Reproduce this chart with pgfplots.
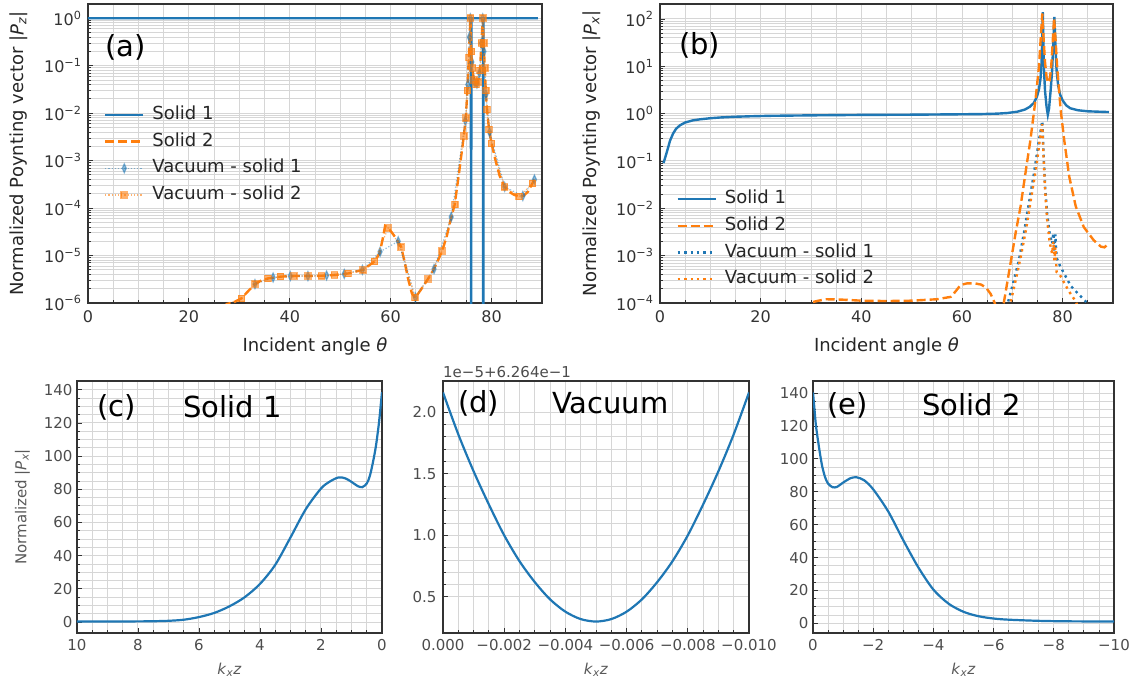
\documentclass[border=0pt]{standalone}
\usepackage{fontspec}
\setmainfont{DejaVu Sans}
\usepackage{pgfplots}
\pgfplotsset{compat=1.18}
\definecolor{tabblue}{HTML}{1F77B4}
\definecolor{taborange}{HTML}{FF7F0E}
\definecolor{gridc}{HTML}{D6D6D6}
\definecolor{framec}{HTML}{333333}
\newcommand\pw[1]{10\textsuperscript{#1}}
\newcommand\fs[1]{\fontsize{#1}{#1}\selectfont}
\tikzset{
  sone/.style={tabblue, line width=2.4pt},
  stwo/.style={taborange, line width=2.4pt, dash pattern=on 9pt off 4pt},
}
\pgfplotsset{
  legend image code/.code={\draw[mark repeat=2,mark phase=2,#1] plot coordinates {(0pt,0pt) (19pt,0pt) (38pt,0pt)}; \path (44pt,0pt);},
  every axis/.append style={
    scale only axis,
    clip mode=individual,
    scaled ticks=false,
    axis line style={line width=1.5pt, draw=framec},
    tick align=inside, tick pos=left,
    major tick length=5pt, minor tick length=3pt,
    tick style={line width=0.9pt, draw=framec},
    grid=both,
    major grid style={line width=1pt, draw=gridc},
    minor grid style={line width=0.9pt, draw=gridc},
    /pgf/number format/assume math mode=true,
    legend cell align=left,
  },
}
\begin{document}
\begin{tikzpicture}
\path[use as bounding box] (0,0) rectangle (1136pt,681pt);

% ---------------- (a)
\begin{axis}[at={(88pt,378pt)}, anchor=south west,
  width=454pt, height=299pt,
  ymode=log, xmin=0, xmax=90,
  xtick={0,20,40,60,80},
  minor xtick={5,10,15,25,30,35,45,50,55,65,70,75,85,90},
  tick label style={font=\fs{16}, text=black!80},
  xticklabel style={yshift=-4pt},
  yticklabel style={xshift=-3pt},
  label style={font=\fs{18}, text=black!85},
  xlabel style={at={(axis description cs:0.5,-0.147)}, anchor=center},
  ylabel style={at={(axis description cs:-0.152,0.5)}, anchor=center},
  legend style={draw=none, fill=none, font=\fs{18}, text=black!85, inner sep=0pt,
      row sep=8.7pt, nodes={inner ysep=0pt, text height=13.5pt, text depth=4.5pt},
      at={(0.035,0.66)}, anchor=north west},
  ymin=1e-6, ymax=2,
  ytick={1e-6,1e-5,1e-4,1e-3,1e-2,1e-1,1},
  yticklabels={\pw{−6},\pw{−5},\pw{−4},\pw{−3},\pw{−2},\pw{−1},\pw{0}},
  minor ytick={2e-6,3e-6,4e-6,5e-6,6e-6,7e-6,8e-6,9e-6,
    2e-5,3e-5,4e-5,5e-5,6e-5,7e-5,8e-5,9e-5,
    2e-4,3e-4,4e-4,5e-4,6e-4,7e-4,8e-4,9e-4,
    2e-3,3e-3,4e-3,5e-3,6e-3,7e-3,8e-3,9e-3,
    2e-2,3e-2,4e-2,5e-2,6e-2,7e-2,8e-2,9e-2,
    0.2,0.3,0.4,0.5,0.6,0.7,0.8,0.9,2},
  xlabel={Incident angle \textit{θ}},
  ylabel={Normalized Poynting vector |\textit{P}\textsubscript{\textit{z}}|},
]
\addplot[sone] coordinates {(0,1)(75.9,1)(75.95,1e-9)(76.0,1)(78.3,1)(78.35,1e-9)(78.4,1)(89.2,1)};
\addlegendentry{Solid 1}
\addplot[stwo] coordinates {
(25,5e-7)(27.5,9.5e-7)(29,1.05e-6)(30.4,1.25e-6)(31.8,1.8e-6)(33.1,2.5e-6)(34.4,3.0e-6)
(35.7,3.3e-6)(38.2,3.6e-6)(40.8,3.7e-6)(43.6,3.7e-6)(46.3,3.75e-6)(48.9,3.9e-6)(51.6,4.2e-6)
(54.5,5.0e-6)(56.8,7.5e-6)(57.8,1.1e-5)(58.4,2.2e-5)(58.9,4.2e-5)(59.5,3.8e-5)(60.3,3.0e-5)
(61.2,2.2e-5)(62.1,1.5e-5)(62.8,7e-6)(63.5,3.1e-6)(64.2,1.6e-6)(64.8,1.3e-6)(65.5,1.6e-6)
(66.5,2.3e-6)(67.4,3.2e-6)(68.5,5e-6)(69.4,8e-6)(70.2,1.25e-5)(71.1,2.5e-5)(71.8,5.2e-5)
(72.7,1.2e-4)(73.5,5e-4)(74.5,3.3e-3)(74.9,8e-3)(75.2,3e-2)(75.5,0.15)(75.8,1.0)(76.0,0.2)
(76.2,0.09)(76.5,0.05)(76.9,0.04)(77.3,0.045)(77.7,0.08)(78.0,0.3)(78.25,1.0)(78.45,0.3)
(78.65,0.09)(78.85,0.03)(79.1,0.012)(79.5,4.5e-3)(80.0,2.3e-3)(80.8,1e-3)(81.6,4.8e-4)
(82.6,2.8e-4)(83.5,2.2e-4)(84.5,1.9e-4)(85.5,1.75e-4)(86.3,1.8e-4)(87.2,2.2e-4)(88.1,3.3e-4)(88.8,4.8e-4)};
\addlegendentry{Solid 2}
\addplot[tabblue, opacity=0.5, line width=1.2pt, dash pattern=on 1.2pt off 2pt,
  mark=diamond*, mark size=4.5pt, mark options={solid, xscale=0.6}] coordinates {
(33.1,2.5e-6)(36.7,3.45e-6)(40.1,3.7e-6)(43.6,3.7e-6)(47.3,3.8e-6)(50.8,4.1e-6)(54.4,5.0e-6)
(57.9,1.2e-5)(61.5,2.0e-5)(64.9,1.3e-6)(68.6,5.2e-6)(72.0,6.5e-5)(74.8,7e-3)(75.3,4e-2)
(75.6,0.4)(75.8,1.0)(76.1,0.12)(76.6,0.045)(77.1,0.042)(77.6,0.07)(78.0,0.3)(78.25,1.0)
(78.5,0.2)(78.9,0.025)(79.6,4e-3)(82.6,2.8e-4)(86.2,1.8e-4)(88.5,4e-4)};
\addlegendentry{Vacuum - solid 1}
\addplot[taborange, opacity=0.6, line width=1.2pt, dash pattern=on 1.2pt off 2pt,
  mark=square*, mark size=3.2pt, mark options={solid}] coordinates {
(27.5,9.5e-7)(30.4,1.25e-6)(33.1,2.5e-6)(35.7,3.3e-6)(38.2,3.6e-6)(40.8,3.7e-6)(43.6,3.7e-6)
(46.3,3.75e-6)(48.9,3.9e-6)(51.6,4.2e-6)(54.5,5.0e-6)(56.8,7.5e-6)(59.5,3.8e-5)(62.1,1.5e-5)
(64.8,1.3e-6)(67.4,3.2e-6)(70.2,1.25e-5)(72.7,1.2e-4)(74.5,3.3e-3)(74.9,8e-3)(75.2,3e-2)
(75.5,0.15)(75.8,1.0)(76.0,0.2)(76.2,0.09)(76.5,0.05)(76.9,0.04)(77.3,0.045)(77.7,0.08)
(78.0,0.3)(78.25,1.0)(78.45,0.3)(78.65,0.09)(78.85,0.03)(79.1,0.012)(79.5,4.5e-3)(80.0,2.3e-3)
(82.6,2.8e-4)(85.5,1.75e-4)(88.1,3.3e-4)};
\addlegendentry{Vacuum - solid 2}
\node[anchor=west, inner sep=0pt, font=\fs{29}, text=black] at (axis description cs:0.0385,0.855) {(a)};
\end{axis}

% ---------------- (b)
\begin{axis}[at={(660pt,378pt)}, anchor=south west,
  width=453pt, height=299pt,
  ymode=log, xmin=0, xmax=90,
  xtick={0,20,40,60,80},
  minor xtick={5,10,15,25,30,35,45,50,55,65,70,75,85,90},
  tick label style={font=\fs{16}, text=black!80},
  xticklabel style={yshift=-4pt},
  yticklabel style={xshift=-3pt},
  label style={font=\fs{18}, text=black!85},
  xlabel style={at={(axis description cs:0.5,-0.147)}, anchor=center},
  ylabel style={at={(axis description cs:-0.15,0.5)}, anchor=center},
  legend style={draw=none, fill=none, font=\fs{18}, text=black!85, inner sep=0pt,
      row sep=8.7pt, nodes={inner ysep=0pt, text height=13.5pt, text depth=4.5pt},
      at={(0.036,0.378)}, anchor=north west},
  ymin=1e-4, ymax=207,
  ytick={1e-4,1e-3,1e-2,1e-1,1,10,100},
  yticklabels={\pw{−4},\pw{−3},\pw{−2},\pw{−1},\pw{0},\pw{1},\pw{2}},
  minor ytick={2e-4,3e-4,4e-4,5e-4,6e-4,7e-4,8e-4,9e-4,
    2e-3,3e-3,4e-3,5e-3,6e-3,7e-3,8e-3,9e-3,
    2e-2,3e-2,4e-2,5e-2,6e-2,7e-2,8e-2,9e-2,
    0.2,0.3,0.4,0.5,0.6,0.7,0.8,0.9,2,3,4,5,6,7,8,9,
    20,30,40,50,60,70,80,90,200},
  xlabel={Incident angle \textit{θ}},
  ylabel={Normalized Poynting vector |\textit{P}\textsubscript{\textit{x}}|},
]
\addplot[sone] coordinates {
(0.7,0.09)(1.0,0.115)(1.4,0.16)(2.0,0.27)(2.6,0.38)(3.2,0.48)(4.0,0.57)(5.0,0.65)(6.5,0.72)
(8,0.76)(10,0.8)(12,0.83)(15,0.86)(18,0.88)(22,0.9)(26,0.91)(30,0.92)(35,0.93)(40,0.94)
(45,0.945)(50,0.95)(55,0.96)(60,0.97)(64,0.98)(67,1.0)(69,1.03)(71,1.1)(72.5,1.22)(73.5,1.4)
(74.3,1.7)(74.9,2.3)(75.3,3.3)(75.6,5.5)(75.8,12)(75.95,40)(76.05,140)(76.15,40)(76.3,8)
(76.5,3)(76.8,1.4)(77.05,0.95)(77.3,1.3)(77.6,3)(77.9,8)(78.1,25)(78.25,60)(78.35,110)
(78.45,60)(78.6,20)(78.8,8)(79.1,4)(79.5,2.5)(80,1.9)(80.7,1.5)(81.5,1.3)(83,1.18)(85,1.12)
(87,1.1)(89.2,1.08)};
\addlegendentry{Solid 1}
\addplot[stwo] coordinates {
(30.4,1.05e-4)(31.5,1.12e-4)(33,1.2e-4)(36,1.18e-4)(40,1.12e-4)(45,1.1e-4)(50,1.12e-4)
(55,1.2e-4)(57.8,1.35e-4)(58.8,1.8e-4)(59.7,2.4e-4)(61,2.6e-4)(62.5,2.6e-4)(63.8,2.45e-4)
(64.8,2.1e-4)(65.7,1.55e-4)(66.5,1.0e-4)(67.0,7e-5)(67.5,6e-5)(68.0,7.5e-5)(68.3,1e-4)
(69.65,7e-4)(70.65,3e-3)(71.64,0.011)(72.6,0.055)(73.6,0.28)(74.6,1.95)(75.3,10)(75.7,50)
(75.95,130)(76.2,40)(76.5,12)(76.8,6)(77.1,4.5)(77.4,5)(77.7,9)(78.0,30)(78.3,105)(78.6,35)
(78.9,10)(79.6,1.2)(80.3,0.28)(81.3,0.047)(82.6,0.011)(84.2,4e-3)(86.2,2.1e-3)(87.6,1.55e-3)
(88.3,1.5e-3)(88.9,1.7e-3)};
\addlegendentry{Solid 2}
\addplot[tabblue, line width=2.4pt, dash pattern=on 2.4pt off 4pt] coordinates {
(68.8,8e-5)(69.3,1.2e-4)(70.3,3e-4)(71.3,8e-4)(72.3,3e-3)(73.3,0.013)(74.3,0.055)(75.3,0.28)
(75.95,0.7)(76.2,0.15)(76.5,0.03)(76.9,8e-3)(77.4,3e-3)(77.9,1.8e-3)(78.15,3e-3)(78.35,1.2e-3)
(78.55,2.8e-3)(78.8,9e-4)(79.5,6e-4)(80.5,3.8e-4)(81.6,2.3e-4)(83,1.6e-4)(84.5,1.1e-4)(85.5,8e-5)};
\addlegendentry{Vacuum - solid 1}
\addplot[taborange, line width=2.4pt, dash pattern=on 2.4pt off 4pt] coordinates {
(69.3,8e-5)(69.8,1.2e-4)(70.8,3.5e-4)(71.8,1.1e-3)(72.8,4e-3)(73.8,0.018)(74.8,0.08)(75.5,0.3)
(75.95,0.6)(76.2,0.12)(76.5,0.025)(76.9,6e-3)(77.4,2e-3)(77.9,1.1e-3)(78.15,2e-3)(78.35,8e-4)
(78.55,1.5e-3)(78.8,4.5e-4)(79.4,4e-4)(80.2,2.8e-4)(81.2,1.8e-4)(82.3,1.2e-4)(83.2,8e-5)};
\addlegendentry{Vacuum - solid 2}
\node[anchor=west, inner sep=0pt, font=\fs{29}, text=black] at (axis description cs:0.042,0.86) {(b)};
\end{axis}

% ---------------- (c)
\begin{axis}[at={(77pt,48pt)}, anchor=south west, width=305pt, height=252pt,
  tick label style={font=\fs{15}, text=black!70},
  xticklabel style={yshift=-3pt},
  yticklabel style={xshift=-1pt},
  label style={font=\fs{15}, text=black!65},
  xlabel style={at={(axis description cs:0.5,-0.147)}, anchor=center},
  ylabel style={at={(axis description cs:-0.179,0.5)}, anchor=center},
  xmin=0, xmax=10, x dir=reverse, ymin=-6.6, ymax=145.3,
  xtick={0,2,4,6,8,10}, minor x tick num=3,
  ytick={0,20,40,60,80,100,120,140}, minor y tick num=3,
  xlabel={\textit{k}\textsubscript{\textit{x}}\textit{z}},
  ylabel={Normalized |\textit{P}\textsubscript{\textit{x}}|},
]
\addplot[tabblue, line width=2.2pt, smooth] coordinates {
(10,0.35)(9,0.36)(8,0.4)(7.5,0.5)(7.0,0.75)(6.5,1.4)(6.0,3)(5.5,5.5)(5.0,9.5)(4.5,15)
(4.0,23)(3.5,34.5)(3.0,51)(2.5,68)(2.0,80.5)(1.7,84.8)(1.42,87.2)(1.2,86.6)(1.0,84.5)
(0.8,82)(0.65,81.3)(0.5,83.5)(0.4,88)(0.3,96)(0.2,106)(0.1,120)(0.04,131)(0,138.6)};
\node[anchor=west, inner sep=0pt, font=\fs{29}, text=black] at (axis description cs:0.066,0.897) {(c)};
\node[anchor=west, inner sep=0pt, font=\fs{29}, text=black] at (axis description cs:0.348,0.897) {Solid 1};
\end{axis}

% ---------------- (d)
\begin{axis}[at={(443pt,48pt)}, anchor=south west, width=306pt, height=252pt,
  tick label style={font=\fs{15}, text=black!70},
  xticklabel style={yshift=-3pt},
  yticklabel style={xshift=-3pt},
  label style={font=\fs{15}, text=black!65},
  xlabel style={at={(axis description cs:0.5,-0.147)}, anchor=center},
  xmin=-0.010, xmax=0, x dir=reverse, ymin=0.207, ymax=2.253,
  xtick={0,-0.002,-0.004,-0.006,-0.008,-0.010},
  xticklabels={0.000,−0.002,−0.004,−0.006,−0.008,−0.010},
  minor x tick num=3,
  ytick={0.5,1,1.5,2}, yticklabels={0.5,1.0,1.5,2.0}, minor y tick num=4,
  xlabel={\textit{k}\textsubscript{\textit{x}}\textit{z}},
]
\addplot[tabblue, line width=2.2pt, smooth] coordinates {
(0,2.16)(-0.0005,1.82)(-0.001,1.52)(-0.0015,1.25)(-0.002,1.00)(-0.0025,0.79)(-0.003,0.62)
(-0.0035,0.48)(-0.004,0.38)(-0.0045,0.32)(-0.005,0.30)(-0.0055,0.32)(-0.006,0.38)(-0.0065,0.48)
(-0.007,0.62)(-0.0075,0.79)(-0.008,1.00)(-0.0085,1.25)(-0.009,1.52)(-0.0095,1.82)(-0.010,2.16)};
\node[anchor=west, inner sep=0pt, font=\fs{29}, text=black] at (axis description cs:0.049,0.913) {(d)};
\node[anchor=west, inner sep=0pt, font=\fs{29}, text=black] at (axis description cs:0.356,0.913) {Vacuum};
\node[anchor=south west, inner sep=0pt, font=\fs{15}, text=black!70] at (axis description cs:0,1.012) {1e−5+6.264e−1};
\end{axis}

% ---------------- (e)
\begin{axis}[at={(813pt,48pt)}, anchor=south west, width=301pt, height=252pt,
  tick label style={font=\fs{15}, text=black!70},
  xticklabel style={yshift=-3pt},
  yticklabel style={xshift=-1pt},
  label style={font=\fs{15}, text=black!65},
  xlabel style={at={(axis description cs:0.5,-0.147)}, anchor=center},
  xmin=-10, xmax=0, x dir=reverse, ymin=-5.9, ymax=147.4,
  xtick={0,-2,-4,-6,-8,-10}, xticklabels={0,−2,−4,−6,−8,−10}, minor x tick num=3,
  ytick={0,20,40,60,80,100,120,140}, minor y tick num=3,
  xlabel={\textit{k}\textsubscript{\textit{x}}\textit{z}},
]
\addplot[tabblue, line width=2.2pt, smooth] coordinates {
(0,140.5)(-0.05,130)(-0.1,120)(-0.2,107)(-0.3,96)(-0.4,89)(-0.5,85)(-0.65,82.8)(-0.8,83)
(-1.0,85.6)(-1.25,88.3)(-1.45,88.8)(-1.7,87)(-2.0,81.5)(-2.5,68)(-3.0,50.5)(-3.5,34)
(-4.0,20.5)(-4.5,12)(-5.0,7)(-5.5,4.3)(-6.0,2.9)(-6.5,2.2)(-7.5,1.5)(-8.5,1.2)(-10,1.1)};
\node[anchor=west, inner sep=0pt, font=\fs{29}, text=black] at (axis description cs:0.047,0.905) {(e)};
\node[anchor=west, inner sep=0pt, font=\fs{29}, text=black] at (axis description cs:0.362,0.905) {Solid 2};
\end{axis}
\end{tikzpicture}
\end{document}
